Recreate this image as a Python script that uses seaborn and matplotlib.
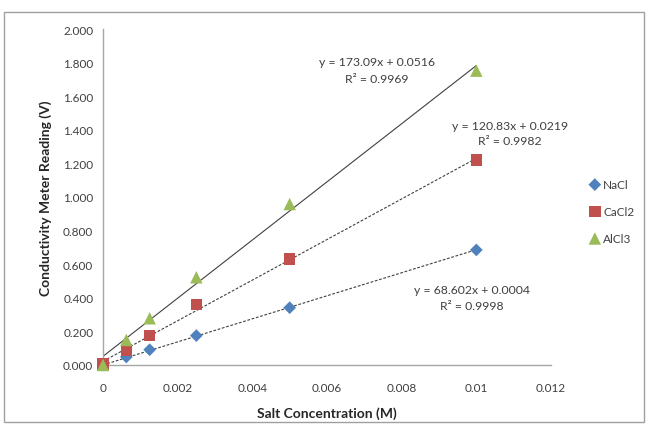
import pandas as pd
import matplotlib
matplotlib.use("Agg")
import matplotlib.pyplot as plt
import seaborn as sns
from matplotlib.patches import Rectangle

# salt concentration (M) and meter readings (V)
conc = [0, 0.000625, 0.00125, 0.0025, 0.005, 0.01]
nacl = [0.0, 0.048, 0.091, 0.175, 0.341, 0.685]
cacl2 = [0.006, 0.089, 0.175, 0.359, 0.631, 1.222]
alcl3 = [0.0, 0.149, 0.278, 0.522, 0.958, 1.752]

salts = ['NaCl', 'CaCl2', 'AlCl3']
slopes = [68.602, 120.83, 173.09]
intercepts = [0.0004, 0.0219, 0.0516]
r2 = [0.9998, 0.9982, 0.9969]

xticks = [0, 0.002, 0.004, 0.006, 0.008, 0.01, 0.012]
xtick_labels = ['0', '0.002', '0.004', '0.006', '0.008', '0.01', '0.012']

df = pd.DataFrame({
    'conc': conc * 3,
    'reading': nacl + cacl2 + alcl3,
    'salt': [s for s in salts for _ in conc],
})

sns.set_style('white')
plt.rcParams['font.family'] = ['Lato', 'DejaVu Sans']

fig = plt.figure(figsize=(6.49, 4.31), dpi=100)
ax = fig.add_axes([103 / 649, 65 / 431, 448 / 649, 336 / 431])

colors = {'NaCl': '#4F81BD', 'CaCl2': '#C0504D', 'AlCl3': '#9BBB59'}
markers = {'NaCl': 'D', 'CaCl2': 's', 'AlCl3': '^'}
sizes = {'NaCl': 42, 'CaCl2': 70, 'AlCl3': 80}

# linear trendlines
line_styles = {'NaCl': (0, (2.5, 1.5)), 'CaCl2': (0, (2.5, 1.5)), 'AlCl3': '-'}
for s, m, b in zip(salts, slopes, intercepts):
    tl = pd.DataFrame({'conc': [0, 0.01], 'fit': [b, m * 0.01 + b]})
    sns.lineplot(data=tl, x='conc', y='fit', ax=ax, color='#404040',
                 linewidth=0.8, linestyle=line_styles[s], legend=False)

for s in salts:
    sns.scatterplot(data=df[df.salt == s], x='conc', y='reading', ax=ax,
                    color=colors[s], marker=markers[s], s=sizes[s],
                    edgecolor='none', label=s, zorder=3, clip_on=False)

ax.set_xlim(0, 0.012)
ax.set_ylim(0, 2.0)
ax.set_xticks(xticks)
ax.set_xticklabels(xtick_labels)
ax.set_yticks([i * 0.2 for i in range(11)])
ax.set_yticklabels([f'{i * 0.2:.3f}' for i in range(11)])
ax.tick_params(axis='both', labelsize=8.5, colors='#404040', length=4,
               direction='out', width=0.8)
ax.tick_params(axis='x', pad=8)
ax.tick_params(axis='y', pad=3)
for t in ax.get_xticklabels() + ax.get_yticklabels():
    t.set_color('#404040')

for side in ['top', 'right']:
    ax.spines[side].set_visible(False)
for side in ['left', 'bottom']:
    ax.spines[side].set_color('#A6A6A6')
    ax.spines[side].set_linewidth(1.0)

ax.set_xlabel('Salt Concentration (M)', fontsize=10, fontweight='bold', labelpad=10)
ax.set_ylabel('Conductivity Meter Reading (V)', fontsize=10, fontweight='bold', labelpad=8)

# trendline equations
eq_pos = {'NaCl': (0.00989, 0.452, 0.357), 'CaCl2': (0.0109, 1.423, 1.338),
          'AlCl3': (0.00734, 1.804, 1.708)}
for s, m, b, r in zip(salts, slopes, intercepts, r2):
    x, y1, y2 = eq_pos[s]
    ax.text(x, y1, f'y = {m:g}x + {b:g}', ha='center', va='center',
            fontsize=8.8, color='#404040')
    ax.text(x, y2, f'R\u00b2 = {r:.4f}', ha='center', va='center',
            fontsize=8.8, color='#404040')

leg = ax.legend(loc='upper left', bbox_to_anchor=(583 / 649, 1 - 175 / 431),
                bbox_transform=fig.transFigure, frameon=False, fontsize=8.5,
                labelspacing=1.35, handletextpad=0.1, handlelength=1.2,
                borderaxespad=0)
for t in leg.get_texts():
    t.set_color('#404040')

fig.patches.append(Rectangle((4 / 649, 8 / 431), 640 / 649, 410 / 431,
                             transform=fig.transFigure, fill=False,
                             edgecolor='#A0A0A0', linewidth=1.0))

fig.savefig('out.png', dpi=100)
